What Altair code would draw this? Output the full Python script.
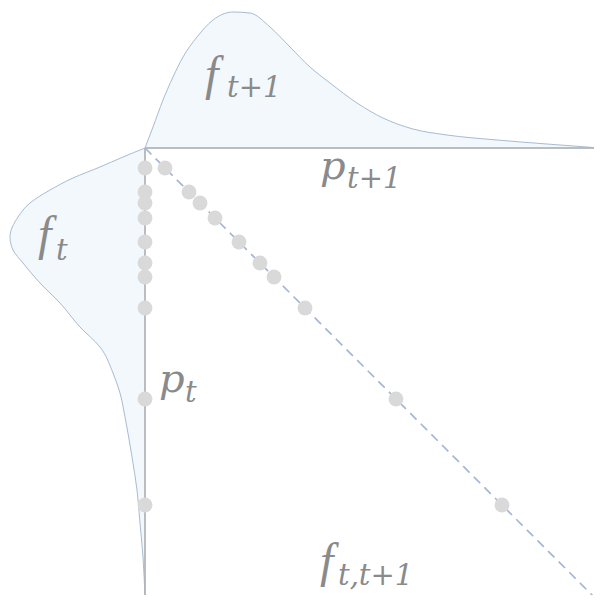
import altair as alt
import pandas as pd

# f_{t+1}: density along the p_{t+1} axis (distance from origin, density height)
top_d = [0, 8, 18, 28, 38, 52, 68, 88, 105, 125, 145, 165, 185, 212, 238, 268, 302, 352, 402, 455]
top_h = [0, 21, 48, 71, 91, 111, 128, 136, 135, 121, 101, 81, 65, 45, 30, 19, 13, 8, 4, 0]

# f_t: density along the p_t axis (distance from origin, density height)
left_d = [0, 9, 19, 30, 42, 55, 69, 89, 102, 115, 135, 155, 179, 199, 225, 245, 269, 309, 342, 375, 409, 450]
left_h = [0, 22, 45, 72, 95, 115, 127, 135, 132, 122, 105, 85, 65, 45, 32, 25, 20, 13, 8, 5, 2, 0]

# sampled prices p_t (shown on p_t axis and on the diagonal p_t = p_{t+1})
p_vals = [20, 44, 55, 70, 94, 115, 129, 160, 251, 357]

# axes lengths
axis_x_end = 455
axis_y_end = 460

# labels: density symbols f, price symbols p, subscripts
f_x = [60, -107, 175]
f_y = [-58, 102, 429]
p_x = [175, 14]
p_y = [31, 244]
sub_text = ["t+1", "t+1", "t", "t", "t,t+1"]
sub_x = [82, 202, -89, 40, 193]
sub_y = [-51, 40, 112, 254, 437]

W, H = 586, 587
X_DOM = [-137, -137 + W]
Y_DOM = [-140, -140 + H]

xs = alt.Scale(domain=X_DOM, nice=False, zero=False)
ys = alt.Scale(domain=Y_DOM, nice=False, zero=False, reverse=True)

top_df = pd.DataFrame({"d": top_d, "h": [-v for v in top_h], "base": [0] * len(top_d)})
left_df = pd.DataFrame({"d": left_d, "h": [-v for v in left_h], "base": [0] * len(left_d)})

FILL = "#f2f8fc"
EDGE = "#a8bbd3"

top_area = alt.Chart(top_df).mark_area(
    fill=FILL, stroke=EDGE, strokeWidth=1, interpolate="monotone", orient="vertical"
).encode(
    x=alt.X("d:Q", scale=xs, axis=None),
    y=alt.Y("h:Q", scale=ys, axis=None),
    y2="base:Q",
)

left_area = alt.Chart(left_df).mark_area(
    fill=FILL, stroke=EDGE, strokeWidth=1, interpolate="monotone", orient="horizontal"
).encode(
    y=alt.Y("d:Q", scale=ys, axis=None),
    x=alt.X("h:Q", scale=xs, axis=None),
    x2="base:Q",
)

axes_df = pd.DataFrame({
    "x0": [0, 0], "x1": [axis_x_end, 0],
    "y0": [0, 0], "y1": [0, axis_y_end],
})
axes = alt.Chart(axes_df).mark_rule(color="#b3b3b3", strokeWidth=1.5).encode(
    x=alt.X("x0:Q", scale=xs, axis=None), x2="x1:Q",
    y=alt.Y("y0:Q", scale=ys, axis=None), y2="y1:Q",
)

diag_df = pd.DataFrame({"x0": [0], "x1": [axis_x_end], "y0": [0], "y1": [axis_x_end]})
diag = alt.Chart(diag_df).mark_rule(color="#a6b6cf", strokeWidth=1.7, strokeDash=[9, 6]).encode(
    x=alt.X("x0:Q", scale=xs, axis=None), x2="x1:Q",
    y=alt.Y("y0:Q", scale=ys, axis=None), y2="y1:Q",
)

pts_df = pd.DataFrame({
    "x": [0] * len(p_vals) + p_vals,
    "y": p_vals + p_vals,
})
pts = alt.Chart(pts_df).mark_circle(color="#d9d9d9", opacity=1, size=220).encode(
    x=alt.X("x:Q", scale=xs, axis=None),
    y=alt.Y("y:Q", scale=ys, axis=None),
)

f_df = pd.DataFrame({"x": f_x, "y": f_y, "t": ["f"] * len(f_x)})
p_df = pd.DataFrame({"x": p_x, "y": p_y, "t": ["p"] * len(p_x)})
sub_df = pd.DataFrame({"x": sub_x, "y": sub_y, "t": sub_text})

TXT = "#8a8a8a"
f_lbl = alt.Chart(f_df).mark_text(
    font="Liberation Serif", fontStyle="italic", fontSize=48, color=TXT,
    align="left", baseline="alphabetic"
).encode(
    x=alt.X("x:Q", scale=xs, axis=None), y=alt.Y("y:Q", scale=ys, axis=None), text="t:N"
)
p_lbl = alt.Chart(p_df).mark_text(
    font="DejaVu Serif", fontStyle="italic", fontSize=40, color=TXT,
    align="left", baseline="alphabetic"
).encode(
    x=alt.X("x:Q", scale=xs, axis=None), y=alt.Y("y:Q", scale=ys, axis=None), text="t:N"
)
sub_lbl = alt.Chart(sub_df).mark_text(
    font="DejaVu Serif", fontStyle="italic", fontSize=29, color=TXT,
    align="left", baseline="alphabetic"
).encode(
    x=alt.X("x:Q", scale=xs, axis=None), y=alt.Y("y:Q", scale=ys, axis=None), text="t:N"
)

chart = alt.layer(top_area, left_area, axes, diag, pts, f_lbl, p_lbl, sub_lbl).properties(
    width=W, height=H, padding=0, autosize=alt.AutoSizeParams(type="none"),
    background="white",
).configure_view(stroke=None)

chart.save("out.html", embed_options={"renderer": "svg", "actions": False})
